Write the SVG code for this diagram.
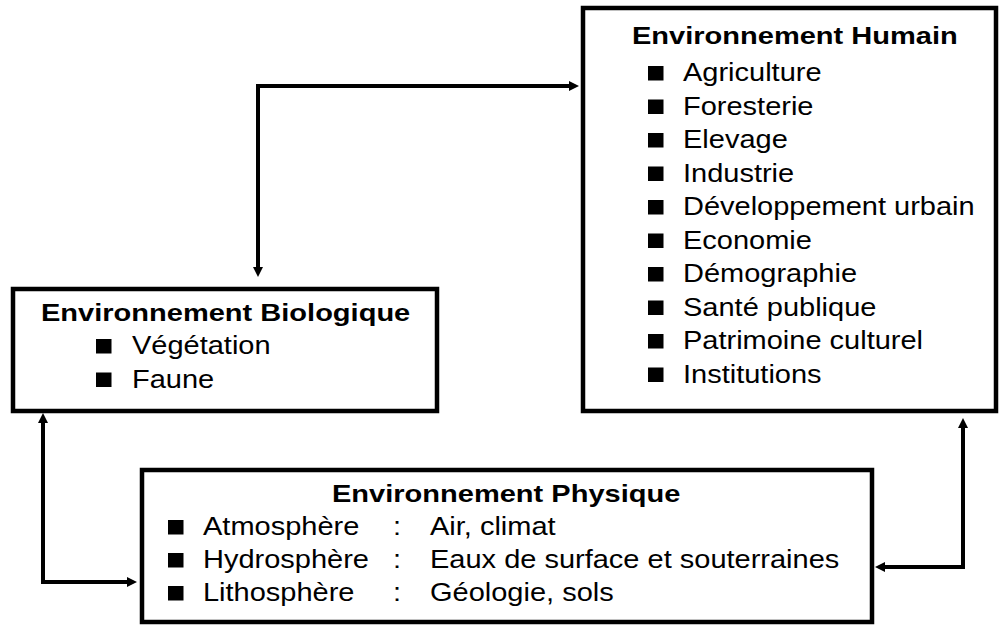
<svg xmlns="http://www.w3.org/2000/svg" width="1000" height="625" viewBox="0 0 1000 625">
  <style>
    .box { fill: #ffffff; stroke: #000000; stroke-width: 4.5; }
    .t { font-family: "Liberation Sans", Arial, sans-serif; font-size: 25px; fill: #000000; }
    .b { font-weight: bold; font-size: 24px; }
    .bul { fill: #000000; }
    .conn { fill: none; stroke: #000000; stroke-width: 4; stroke-linejoin: miter; }
  </style>
  <defs>
    <marker id="arr" markerUnits="userSpaceOnUse" markerWidth="10" markerHeight="10" refX="2" refY="5" orient="auto-start-reverse">
      <path d="M0,0 L10,5 L0,10 z" fill="#000000"/>
    </marker>
  </defs>
  <rect width="1000" height="625" fill="#ffffff"/>

  <g id="connectors">
    <path class="conn" d="M258,269 V86 H571" marker-start="url(#arr)" marker-end="url(#arr)"/>
    <path class="conn" d="M43,421 V582 H129" marker-start="url(#arr)" marker-end="url(#arr)"/>
    <path class="conn" d="M963,426 V567 H883" marker-start="url(#arr)" marker-end="url(#arr)"/>
  </g>

  <g id="human">
    <rect class="box" x="583" y="8" width="413" height="403"/>
    <text class="t b" transform="matrix(1.21 0 0 1 632 44)">Environnement Humain</text>
    <rect class="bul" x="648" y="66" width="15.5" height="14.5"/>
    <text class="t" transform="matrix(1.16 0 0 1 683 81)">Agriculture</text>
    <rect class="bul" x="648" y="99.5" width="15.5" height="14.5"/>
    <text class="t" transform="matrix(1.16 0 0 1 683 114.5)">Foresterie</text>
    <rect class="bul" x="648" y="133" width="15.5" height="14.5"/>
    <text class="t" transform="matrix(1.16 0 0 1 683 148)">Elevage</text>
    <rect class="bul" x="648" y="166.5" width="15.5" height="14.5"/>
    <text class="t" transform="matrix(1.16 0 0 1 683 181.5)">Industrie</text>
    <rect class="bul" x="648" y="200" width="15.5" height="14.5"/>
    <text class="t" transform="matrix(1.16 0 0 1 683 215)">Développement urbain</text>
    <rect class="bul" x="648" y="233.5" width="15.5" height="14.5"/>
    <text class="t" transform="matrix(1.16 0 0 1 683 248.5)">Economie</text>
    <rect class="bul" x="648" y="267" width="15.5" height="14.5"/>
    <text class="t" transform="matrix(1.16 0 0 1 683 282)">Démographie</text>
    <rect class="bul" x="648" y="300.5" width="15.5" height="14.5"/>
    <text class="t" transform="matrix(1.16 0 0 1 683 315.5)">Santé publique</text>
    <rect class="bul" x="648" y="334" width="15.5" height="14.5"/>
    <text class="t" transform="matrix(1.16 0 0 1 683 349)">Patrimoine culturel</text>
    <rect class="bul" x="648" y="367.5" width="15.5" height="14.5"/>
    <text class="t" transform="matrix(1.16 0 0 1 683 382.5)">Institutions</text>
  </g>

  <g id="biologique">
    <rect class="box" x="13" y="289" width="424" height="122"/>
    <text class="t b" transform="matrix(1.21 0 0 1 41 320.5)">Environnement Biologique</text>
    <rect class="bul" x="96" y="339" width="15.5" height="14.5"/>
    <text class="t" transform="matrix(1.16 0 0 1 132 354)">Végétation</text>
    <rect class="bul" x="96" y="372.5" width="15.5" height="14.5"/>
    <text class="t" transform="matrix(1.16 0 0 1 132 387.5)">Faune</text>
  </g>

  <g id="physique">
    <rect class="box" x="142" y="470" width="730" height="152"/>
    <text class="t b" transform="matrix(1.21 0 0 1 332 502)">Environnement Physique</text>
    <rect class="bul" x="168" y="520" width="15.5" height="14.5"/>
    <text class="t" transform="matrix(1.16 0 0 1 203 535)">Atmosphère</text>
    <text class="t" transform="matrix(1.16 0 0 1 393 535)">:</text>
    <text class="t" transform="matrix(1.16 0 0 1 430 535)">Air, climat</text>
    <rect class="bul" x="168" y="553" width="15.5" height="14.5"/>
    <text class="t" transform="matrix(1.16 0 0 1 203 568)">Hydrosphère</text>
    <text class="t" transform="matrix(1.16 0 0 1 393 568)">:</text>
    <text class="t" transform="matrix(1.16 0 0 1 430 568)">Eaux de surface et souterraines</text>
    <rect class="bul" x="168" y="586" width="15.5" height="14.5"/>
    <text class="t" transform="matrix(1.16 0 0 1 203 601)">Lithosphère</text>
    <text class="t" transform="matrix(1.16 0 0 1 393 601)">:</text>
    <text class="t" transform="matrix(1.16 0 0 1 430 601)">Géologie, sols</text>
  </g>
</svg>
